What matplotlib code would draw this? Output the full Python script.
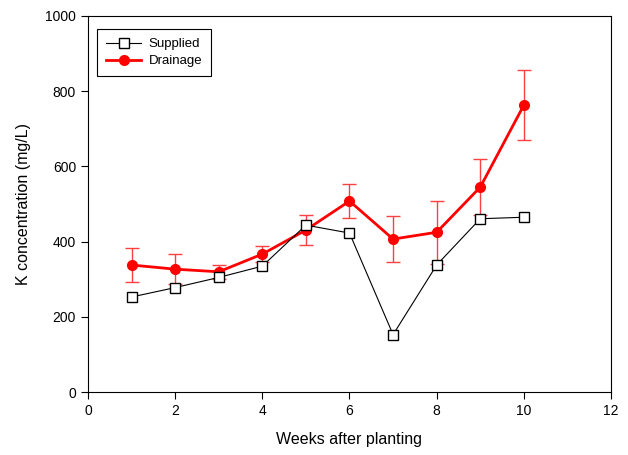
import matplotlib as mpl
mpl.rcParams['font.family'] = ['Liberation Sans', 'DejaVu Sans']
import matplotlib.pyplot as plt

weeks = [1, 2, 3, 4, 5, 6, 7, 8, 9, 10]
supplied = [253, 278, 305, 335, 444, 423, 153, 338, 461, 465]
drainage = [338, 327, 320, 367, 431, 508, 407, 425, 545, 763]
drainage_err = [45, 39, 19, 21, 40, 46, 61, 83, 75, 93]

fig = plt.figure(figsize=(6.28, 4.55), dpi=100)
ax = fig.add_axes([0.140, 0.138, 0.833, 0.827])

ax.errorbar(weeks, drainage, yerr=drainage_err, fmt='none', ecolor='#ff4040',
            elinewidth=1.0, capsize=5, capthick=1.0, zorder=1)
ax.plot(weeks, drainage, '-', color='red', lw=2.0, marker='o', ms=7,
        label='Drainage', zorder=2)
ax.plot(weeks, supplied, '-', color='black', lw=0.8, marker='s', ms=7.5,
        mfc='white', mec='black', mew=1.0, label='Supplied', zorder=3)

ax.set_xlim(0, 12)
ax.set_ylim(0, 1000)
ax.set_xticks(range(0, 13, 2))
ax.set_yticks(range(0, 1001, 200))
ax.tick_params(direction='out', length=5, width=0.8, labelsize=10)
ax.tick_params(top=False, right=False)
for s in ax.spines.values():
    s.set_linewidth(0.8)

ax.set_xlabel('Weeks after planting', fontsize=11.5, labelpad=10)
ax.set_ylabel('K concentration (mg/L)', fontsize=11.5, labelpad=10)

h, l = ax.get_legend_handles_labels()
leg = ax.legend(h[::-1], l[::-1], loc='upper left', fontsize=9.5, frameon=True,
                fancybox=False, edgecolor='black', framealpha=1, borderpad=0.7,
                handlelength=2.6, labelspacing=0.35, handletextpad=0.6,
                bbox_to_anchor=(0.005, 0.983))
leg.get_frame().set_linewidth(0.8)

plt.savefig('out.png', dpi=100)
